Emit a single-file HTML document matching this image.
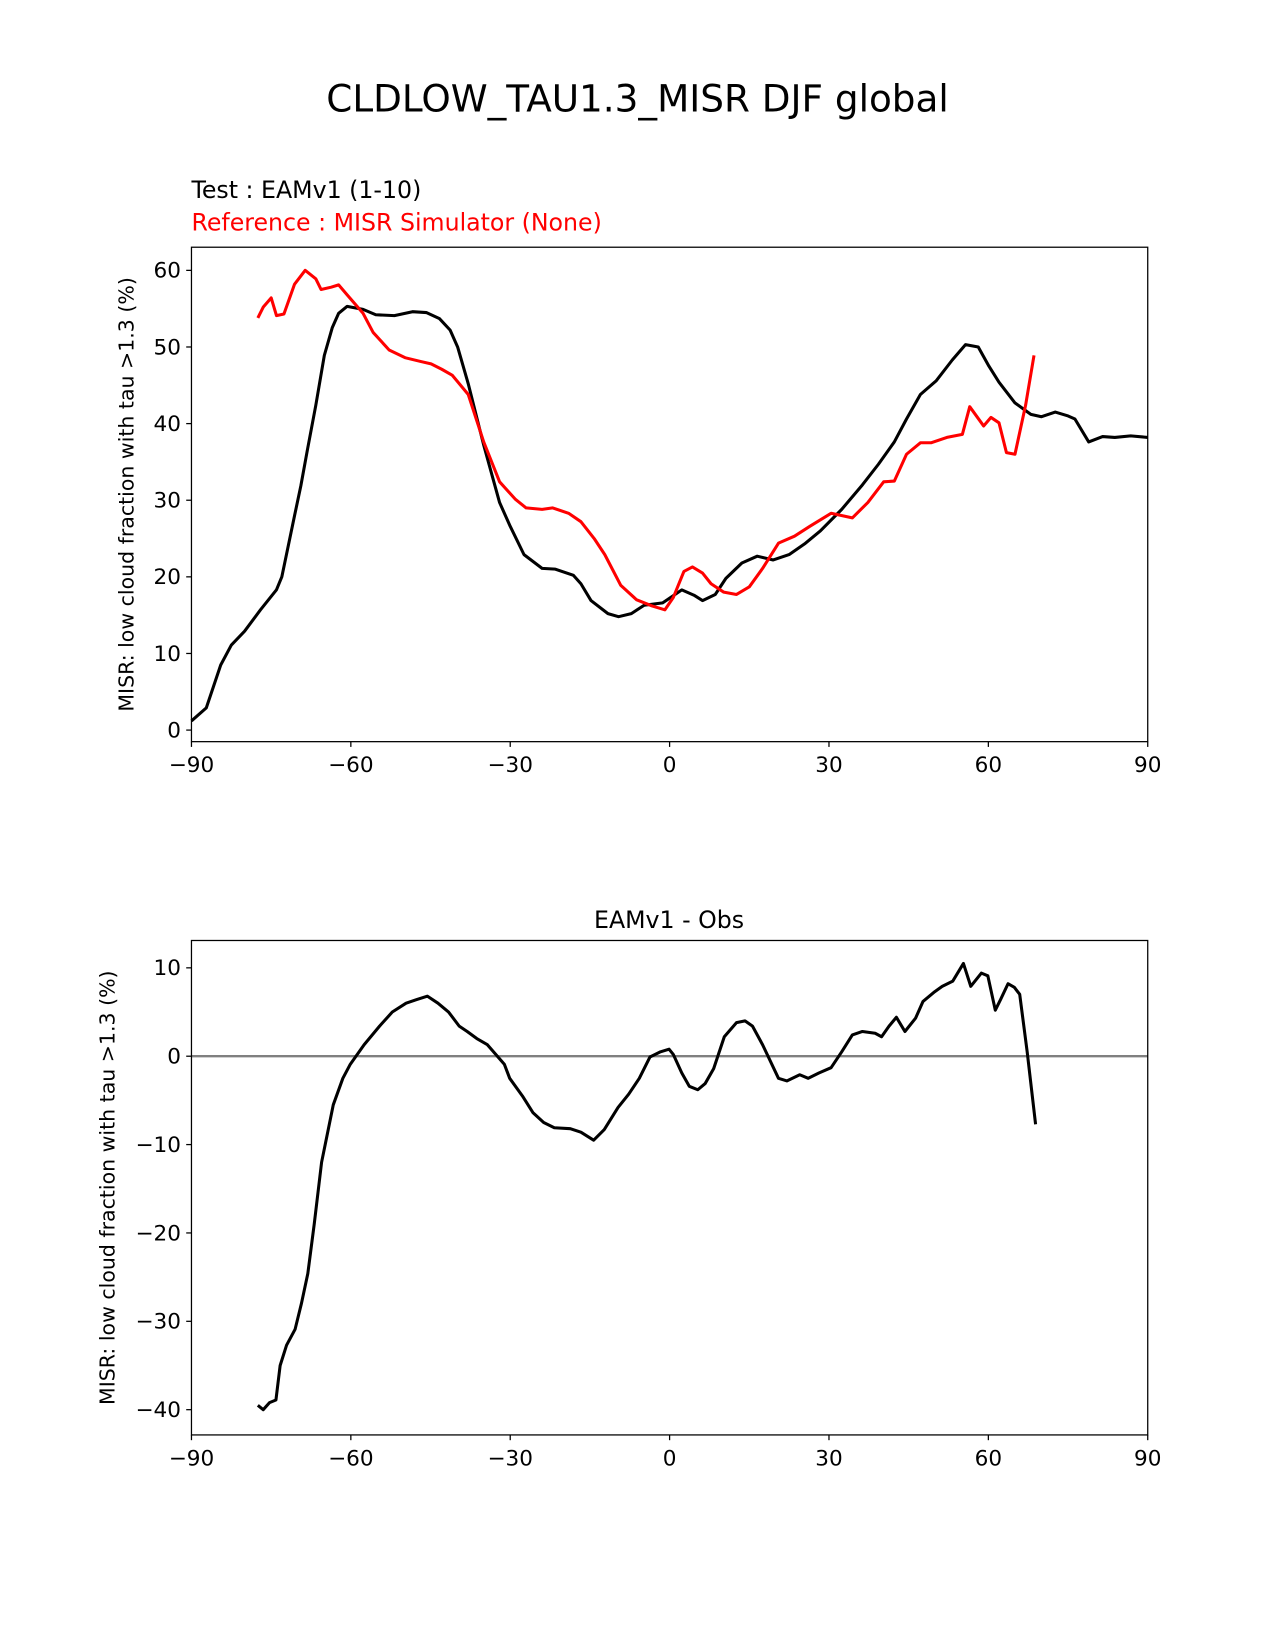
<!DOCTYPE html>
<html><head><meta charset="utf-8"><style>
html,body{margin:0;padding:0;background:#fff}
svg{display:block;font-family:"DejaVu Sans","Liberation Sans",sans-serif}
</style></head><body>
<svg id="fig" width="1275" height="1650" viewBox="0 0 1275 1650" xmlns="http://www.w3.org/2000/svg">
<rect width="1275" height="1650" fill="#fff"/>
<g transform="scale(1.052)">
<text x="606" y="106" font-size="35.5" text-anchor="middle">CLDLOW_TAU1.3_MISR DJF global</text>
<text x="182" y="188" font-size="22.5">Test : EAMv1 (1-10)</text>
<text x="182" y="219" font-size="22.5" fill="#ff0000">Reference : MISR Simulator (None)</text>
<text x="636" y="882" font-size="22.5" text-anchor="middle">EAMv1 - Obs</text>
<g id="top"></g>
<g id="bot"></g>
</g>
</svg>
<script>
const xTicks = [-90,-60,-30,0,30,60,90];
const xTickLabels = ["\u221290","\u221260","\u221230","0","30","60","90"];
const topYTicks = [0,10,20,30,40,50,60];
const botYTicks = [-40,-30,-20,-10,0,10];
const testLat = [-90,-87.2,-84.5,-82.5,-80,-77,-74,-73,-70.6,-69.4,-68.2,-66.6,-65,-63.5,-62.3,-60.7,-57.7,-55.3,-51.8,-48.4,-45.8,-43.3,-41.3,-39.9,-37.9,-35,-32,-30,-27.4,-24,-21.5,-18.1,-16.7,-14.8,-11.6,-9.6,-7.2,-4.8,-1.3,2.3,4.6,6.2,8.6,10.6,13.6,16.5,19.5,22.5,25.4,28.4,32.4,36.3,39.3,42.3,44.6,47.2,50.2,53.2,55.7,58.1,60.1,62,65,68,70,72.6,75,76.3,78.9,81.5,83.8,86.8,90];
const testVal = [1.2,2.9,8.5,11.1,12.9,15.7,18.3,20,28,31.9,36.5,42.4,48.9,52.5,54.4,55.3,54.9,54.2,54.1,54.6,54.5,53.7,52.2,50,45.2,37.2,29.7,26.6,22.9,21.1,21,20.2,19.1,16.9,15.2,14.8,15.2,16.3,16.6,18.3,17.6,16.9,17.7,19.8,21.8,22.7,22.2,22.9,24.3,26,28.8,32,34.7,37.6,40.6,43.8,45.6,48.3,50.3,50,47.5,45.4,42.7,41.2,40.9,41.5,41,40.6,37.6,38.3,38.2,38.4,38.2];
const refLat = [-77.5,-76.5,-75,-74,-72.6,-70.6,-68.6,-66.6,-65.6,-63.7,-62.3,-60.7,-57.7,-55.8,-52.8,-49.8,-46.8,-44.9,-42.9,-40.9,-37.9,-35,-32,-29,-27,-24,-22,-19,-16.7,-14.2,-12.2,-9.2,-6.2,-3.3,-0.9,0.7,2.7,4.3,6.2,7.8,10.2,12.6,15,17.5,20.5,23.5,26.4,30.4,34.4,37.3,40.3,42.3,44.6,47.2,49.2,52.2,55.1,56.5,59.1,60.5,62,63.4,65,67,68.6];
const refVal = [53.8,55.2,56.4,54.1,54.3,58.2,60,58.9,57.5,57.8,58.1,56.8,54.4,51.9,49.6,48.6,48.1,47.8,47.1,46.3,43.8,37.6,32.4,30.1,29,28.8,29,28.3,27.2,25,22.9,18.9,17,16.2,15.7,17.3,20.7,21.3,20.5,19.1,18,17.7,18.7,21.1,24.4,25.3,26.6,28.3,27.7,29.7,32.4,32.5,36,37.5,37.5,38.2,38.6,42.2,39.7,40.8,40.1,36.2,36,42.4,48.9];
const diffLat = [-77.5,-76.5,-75.3,-74.1,-73.3,-72.1,-70.5,-69.3,-68.1,-66.9,-65.5,-63.3,-61.5,-60.1,-57.5,-54.6,-52.2,-49.6,-47.6,-45.6,-43.6,-41.6,-39.6,-38.1,-36.3,-34.3,-32.3,-31.1,-30.1,-27.7,-25.7,-23.7,-21.7,-18.7,-16.7,-14.3,-12.3,-9.7,-7.7,-5.7,-3.7,-1.7,-0.1,0.7,2.3,3.7,5.3,6.7,8.3,10.3,12.6,14.2,15.6,17.5,20.5,22.1,24.5,26.1,28.1,30.4,32.4,34.4,36.3,38.7,39.9,41.3,42.7,44.3,46.3,47.7,49.9,51.3,53.3,55.3,56.7,58.7,59.9,61.3,62.3,63.7,64.9,65.9,67.3,68.9];
const diffVal = [-39.5,-40,-39.2,-38.9,-35,-32.7,-30.9,-28,-24.6,-19,-12,-5.5,-2.5,-0.9,1.3,3.4,5,6,6.4,6.8,6,5,3.4,2.8,2,1.3,-0.1,-0.9,-2.5,-4.5,-6.4,-7.5,-8.1,-8.2,-8.6,-9.5,-8.3,-5.8,-4.3,-2.5,-0.1,0.5,0.8,0.2,-1.9,-3.4,-3.8,-3.1,-1.4,2.2,3.8,4,3.4,1.3,-2.5,-2.8,-2.1,-2.5,-1.9,-1.3,0.5,2.4,2.8,2.6,2.2,3.4,4.4,2.8,4.3,6.2,7.3,7.9,8.5,10.5,7.9,9.4,9.1,5.2,6.4,8.2,7.8,7,0.5,-7.7];

const NS="http://www.w3.org/2000/svg";
function mk(parent,tag,attrs){const e=document.createElementNS(NS,tag);for(const k in attrs)e.setAttribute(k,attrs[k]);parent.appendChild(e);return e;}

function drawPanel(g,top,bottom,yMin,yMax,yTicks,yTitle,ytx,series,zeroLine){
  const L=182,R=1091;
  const xs=v=>L+(v+90)/180*(R-L);
  let ys;
  if(yMin===0){ys=v=>694-v*(694-257)/60;} else {ys=v=>1004-v*(1004-920)/10;}
  if(zeroLine){
    const z=mk(g,'line',{x1:L,x2:R,y1:ys(0),y2:ys(0),stroke:'#808080','stroke-width':2.2});
    
    
  }
  series.forEach(s=>{
    const d=s.lat.map((v,i)=>(i?'L':'M')+xs(v).toFixed(1)+' '+ys(s.val[i]).toFixed(1)).join(' ');
    const p=mk(g,'path',{d:d,fill:'none',stroke:s.color,'stroke-width':2.9,'stroke-linejoin':'round'});
    
    
  });
  const fr=mk(g,'rect',{x:L,y:top,width:R-L,height:bottom-top,fill:'none',stroke:'#000','stroke-width':1.2});
  
  
  xTicks.forEach((t,i)=>{
    const x=xs(t);
    mk(g,'line',{x1:x,x2:x,y1:bottom,y2:bottom+5,stroke:'#000','stroke-width':1.2});
    const tx=mk(g,'text',{x:x,y:bottom+29,'font-size':20.5,'text-anchor':'middle'});
    tx.textContent=xTickLabels[i];
    
    
  });
  yTicks.forEach(t=>{
    const y=ys(t);
    mk(g,'line',{x1:L-5,x2:L,y1:y,y2:y,stroke:'#000','stroke-width':1.2});
    const tx=mk(g,'text',{x:L-10,y:y+7,'font-size':20.5,'text-anchor':'end'});
    tx.textContent=t<0?'\u2212'+(-t):String(t);
    
    
  });
  const cy=(top+bottom)/2;
  const yt=mk(g,'text',{x:ytx,y:cy,'font-size':19.5,'text-anchor':'middle',transform:`rotate(-90 ${ytx} ${cy})`});
  yt.textContent=yTitle;
  
  
}
drawPanel(document.getElementById('top'),235,705,0,60,topYTicks,'MISR: low cloud fraction with tau >1.3 (%)',127,
  [{lat:testLat,val:testVal,color:'#000',name:'test-line'},{lat:refLat,val:refVal,color:'#ff0000',name:'reference-line'}],false);
drawPanel(document.getElementById('bot'),894,1364,-40,10,botYTicks,'MISR: low cloud fraction with tau >1.3 (%)',109,
  [{lat:diffLat,val:diffVal,color:'#000',name:'diff-line'}],true);
</script>
</body></html>
